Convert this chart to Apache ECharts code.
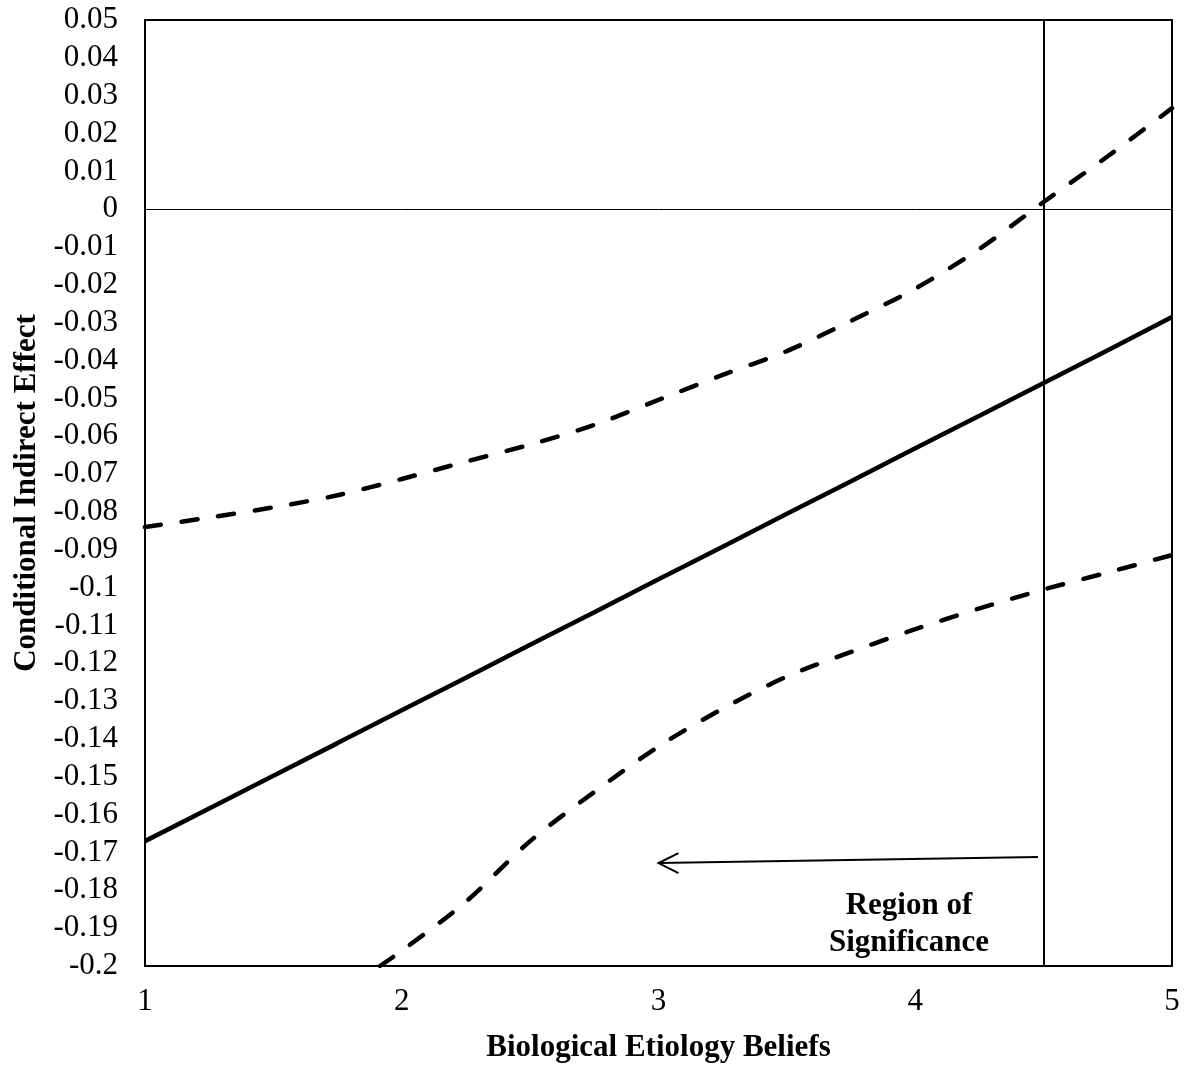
<!DOCTYPE html>
<html>
<head>
<meta charset="utf-8">
<title>Conditional Indirect Effect</title>
<script src="https://cdn.jsdelivr.net/npm/echarts@6/dist/echarts.min.js"></script>
<style>
  html, body { margin: 0; padding: 0; background: #fff; }
  #chart { width: 1191px; height: 1078px; }
</style>
</head>
<body>
<div id="chart"></div>
<script>
// moderator values (biological etiology beliefs)
const beliefs = [1, 1.25, 1.5, 1.75, 2, 2.25, 2.5, 2.75, 3, 3.25, 3.5, 3.75, 4, 4.25, 4.5, 4.75, 5];
// point estimate of the conditional indirect effect
const effect = [-0.167, -0.1584, -0.1497, -0.1411, -0.1324, -0.1238, -0.1151, -0.1065, -0.0978, -0.0892, -0.0805, -0.0719, -0.0632, -0.0546, -0.0459, -0.0373, -0.0285];
// upper confidence band
const upperCI = [-0.084, -0.0815, -0.0788, -0.0756, -0.0713, -0.0667, -0.0622, -0.057, -0.0504, -0.0438, -0.0375, -0.0295, -0.021, -0.0105, 0.0019, 0.014, 0.0267];
// lower confidence band (enters the plot at about 1.92)
const lowerX = [1.915, 2, 2.25, 2.5, 2.75, 3, 3.25, 3.5, 3.75, 4, 4.25, 4.5, 4.75, 5];
const lowerCI = [-0.2, -0.196, -0.183, -0.167, -0.154, -0.142, -0.132, -0.1235, -0.117, -0.111, -0.1055, -0.1005, -0.096, -0.0914];

const regionCut = 4.5;
const arrowFrom = [4.478, -0.1712];
const arrowTo = [3.0, -0.1728];

const xTicks = { min: 1, max: 5, interval: 1 };
const yTicks = { min: -0.2, max: 0.05, interval: 0.01 };

const FONT = "'Liberation Serif', 'Times New Roman', serif";

function pairs(xs, ys) {
  return xs.map((x, i) => [x, ys[i]]);
}

const chart = echarts.init(document.getElementById("chart"));

const dashed = { color: "#000", width: 4.5, type: [16, 21], cap: "round" };

const option = {
  animation: false,
  backgroundColor: "#fff",
  textStyle: { fontFamily: FONT, color: "#000" },
  grid: {
    left: 145,
    right: 19,
    top: 20,
    bottom: 112,
    show: true,
    borderColor: "#000",
    borderWidth: 2,
    backgroundColor: "transparent",
  },
  xAxis: {
    type: "value",
    min: xTicks.min,
    max: xTicks.max,
    interval: xTicks.interval,
    name: "Biological Etiology Beliefs",
    nameLocation: "middle",
    nameGap: 66,
    nameTextStyle: { fontFamily: FONT, fontSize: 31, fontWeight: "bold", color: "#000" },
    axisLine: { show: true, onZero: false, lineStyle: { color: "#000", width: 2 } },
    axisTick: { show: false },
    splitLine: { show: false },
    axisLabel: { fontFamily: FONT, fontSize: 31, color: "#000", margin: 20 },
  },
  yAxis: {
    type: "value",
    min: yTicks.min,
    max: yTicks.max,
    interval: yTicks.interval,
    name: "Conditional Indirect Effect",
    nameLocation: "middle",
    nameGap: 102,
    nameTextStyle: { fontFamily: FONT, fontSize: 31, fontWeight: "bold", color: "#000" },
    axisLine: { show: true, lineStyle: { color: "#000", width: 2 } },
    axisTick: { show: false },
    splitLine: { show: false },
    axisLabel: {
      fontFamily: FONT,
      fontSize: 31,
      color: "#000",
      margin: 27,
      formatter: (v) => String(+v.toFixed(2)),
    },
  },
  series: [
    {
      name: "zero",
      type: "line",
      data: [],
      silent: true,
      markLine: {
        symbol: "none",
        silent: true,
        label: { show: false },
        lineStyle: { color: "#000", width: 1, type: "solid" },
        data: [{ yAxis: 0 }],
      },
    },
    {
      name: "cut",
      type: "line",
      data: [],
      silent: true,
      markLine: {
        symbol: "none",
        silent: true,
        label: { show: false },
        lineStyle: { color: "#000", width: 2, type: "solid" },
        data: [{ xAxis: regionCut }],
      },
    },
    {
      name: "Effect",
      type: "line",
      data: pairs(beliefs, effect),
      showSymbol: false,
      lineStyle: { color: "#000", width: 4.5 },
    },
    {
      name: "Upper",
      type: "line",
      data: pairs(beliefs, upperCI),
      showSymbol: false,
      smooth: 0.3,
      lineStyle: dashed,
    },
    {
      name: "Lower",
      type: "line",
      data: pairs(lowerX, lowerCI),
      showSymbol: false,
      smooth: 0.3,
      lineStyle: dashed,
    },
    {
      name: "arrow",
      type: "custom",
      silent: true,
      data: [[arrowFrom[0], arrowFrom[1], arrowTo[0], arrowTo[1]]],
      renderItem: function (params, api) {
        const a = api.coord([api.value(0), api.value(1)]);
        const b = api.coord([api.value(2), api.value(3)]);
        const style = { stroke: "#000", lineWidth: 2, fill: null };
        return {
          type: "group",
          children: [
            { type: "line", shape: { x1: a[0], y1: a[1], x2: b[0], y2: b[1] }, style: style },
            {
              type: "polyline",
              shape: { points: [[b[0] + 20, b[1] - 10], b, [b[0] + 20, b[1] + 10]] },
              style: style,
            },
          ],
        };
      },
    },
  ],
  graphic: [
    {
      type: "text",
      x: 909,
      y: 887,
      style: {
        text: "Region of\nSignificance",
        fontFamily: FONT,
        fontSize: 31,
        fontWeight: "bold",
        lineHeight: 37,
        fill: "#000",
        align: "center",
        verticalAlign: "top",
      },
    },
  ],
};

chart.setOption(option);
</script>
</body>
</html>
